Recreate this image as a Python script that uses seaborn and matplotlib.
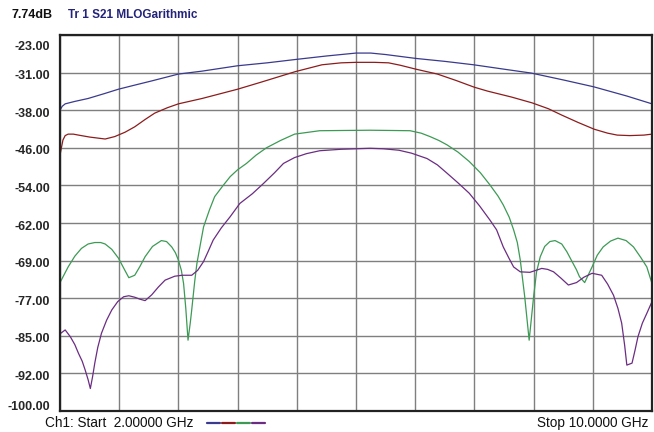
import matplotlib
matplotlib.use("Agg")
import matplotlib.pyplot as plt
import matplotlib.transforms as mtransforms
import numpy as np
import pandas as pd
import seaborn as sns

blue_f = [2.0, 2.03, 2.07, 2.2, 2.38, 2.6, 2.79, 3.0, 3.24, 3.6, 3.92, 4.4, 4.8, 5.19, 5.6, 6.0, 6.2, 6.4,
          6.81, 7.2, 7.59, 8.0, 8.37, 8.8, 9.21, 9.66, 10.0]
blue_db = [-38.4, -37.6, -37.1, -36.6, -36.0, -35.0, -34.1, -33.3, -32.4, -31.0, -30.4, -29.3, -28.7, -28.0, -27.3,
           -26.7, -26.7, -27.0, -27.8, -28.4, -29.1, -30.0, -30.8, -32.2, -33.6, -35.5, -37.1]

red_f = [2.0, 2.02, 2.04, 2.07, 2.11, 2.18, 2.25, 2.4, 2.61, 2.74, 2.88, 3.01, 3.15, 3.28, 3.45, 3.6, 3.92, 4.4,
         4.73, 5.18, 5.54, 5.8, 6.0, 6.25, 6.44, 6.6, 6.81, 7.1, 7.35, 7.6, 7.78, 8.1, 8.38, 8.6, 8.78, 9.0,
         9.22, 9.4, 9.53, 9.7, 9.89, 10.0]
red_db = [-47.6, -46.0, -44.5, -43.6, -43.3, -43.3, -43.5, -43.9, -44.3, -43.8, -42.9, -41.8, -40.3, -39.0, -37.9,
          -37.1, -36.0, -34.1, -32.6, -30.5, -29.1, -28.7, -28.6, -28.6, -28.7, -29.2, -30.0, -31.0, -32.3, -33.7,
          -34.5, -35.7, -36.9, -38.1, -39.4, -40.9, -42.3, -43.1, -43.5, -43.6, -43.5, -43.3]

green_f = [2.0, 2.11, 2.2, 2.29, 2.38, 2.47, 2.55, 2.61, 2.70, 2.79, 2.87, 2.93, 3.01, 3.08, 3.15, 3.25, 3.37,
           3.44, 3.51, 3.56, 3.60, 3.64, 3.67, 3.70, 3.73, 3.76, 3.78, 3.82, 3.85, 3.90, 3.94, 4.02, 4.09, 4.20,
           4.30, 4.40, 4.52, 4.65, 4.79, 4.98, 5.17, 5.51, 6.19, 6.73, 6.88, 7.0, 7.12, 7.23, 7.38, 7.53, 7.68,
           7.81, 7.92, 7.99, 8.07, 8.13, 8.18, 8.22, 8.28, 8.34, 8.40, 8.44, 8.49, 8.55, 8.62, 8.69, 8.78, 8.85,
           8.92, 8.98, 9.02, 9.09, 9.19, 9.26, 9.34, 9.44, 9.54, 9.65, 9.75, 9.85, 9.93, 10.0]
green_db = [-73.7, -70.5, -68.3, -66.7, -65.8, -65.5, -65.5, -65.8, -66.9, -68.7, -71.0, -72.7, -72.2, -70.4, -68.4,
            -66.3, -65.1, -65.3, -66.4, -67.6, -69.1, -71.2, -73.9, -79.0, -85.5, -82.0, -79.3, -73.5, -69.8, -65.6,
            -62.3, -58.8, -56.1, -53.9, -52.0, -50.6, -49.3, -47.6, -46.1, -44.6, -43.3, -42.6, -42.5, -42.6, -43.1,
            -43.8, -44.6, -45.5, -47.0, -48.9, -51.2, -53.7, -56.0, -57.8, -60.3, -62.9, -65.5, -69.1, -76.6, -85.5,
            -76.6, -71.5, -68.4, -66.3, -65.3, -65.1, -65.8, -67.4, -69.4, -71.1, -72.5, -73.7, -70.5, -68.1, -66.4,
            -65.2, -64.6, -65.1, -66.4, -68.6, -70.5, -73.9]

purple_f = [2.0, 2.07, 2.14, 2.2, 2.25, 2.30, 2.34, 2.38, 2.41, 2.44, 2.47, 2.51, 2.56, 2.63, 2.70, 2.78, 2.86,
            2.93, 3.01, 3.08, 3.15, 3.24, 3.33, 3.42, 3.55, 3.65, 3.78, 3.86, 3.94, 4.0, 4.07, 4.18, 4.30, 4.43,
            4.60, 4.75, 4.90, 5.02, 5.17, 5.33, 5.51, 5.8, 6.19, 6.37, 6.58, 6.75, 6.96, 7.10, 7.23, 7.38, 7.53,
            7.67, 7.81, 7.90, 7.99, 8.07, 8.13, 8.22, 8.35, 8.43, 8.51, 8.59, 8.67, 8.77, 8.87, 8.98, 9.08, 9.19,
            9.32, 9.40, 9.48, 9.54, 9.59, 9.63, 9.66, 9.73, 9.77, 9.81, 9.87, 9.93, 10.0]
purple_db = [-84.2, -83.4, -84.8, -86.4, -88.2, -89.8, -91.6, -93.6, -95.4, -93.0, -90.2, -87.0, -84.1, -81.4, -79.3,
             -77.6, -76.6, -76.4, -76.7, -77.1, -77.4, -76.2, -74.6, -73.2, -72.4, -72.2, -72.2, -71.2, -69.4, -67.4,
             -65.0, -62.5, -60.2, -57.5, -55.5, -53.4, -51.2, -49.3, -48.1, -47.3, -46.7, -46.4, -46.2, -46.3, -46.6,
             -47.2, -48.3, -49.6, -51.3, -53.3, -55.4, -58.0, -60.9, -62.9, -66.4, -68.8, -70.5, -71.5, -71.6, -71.2,
             -70.8, -71.0, -71.5, -72.8, -74.2, -73.7, -72.6, -71.8, -72.2, -74.0, -76.3, -79.0, -82.0, -86.5, -90.6,
             -90.2, -87.6, -84.8, -82.0, -80.0, -77.6]

trace_names = ["blue", "red", "green", "purple"]
trace_colors = ["#3a3a8e", "#8c1c1c", "#3d9a55", "#6b2d82"]

y_labels = ["-23.00", "-31.00", "-38.00", "-46.00", "-54.00", "-62.00",
            "-69.00", "-77.00", "-85.00", "-92.00", "-100.00"]

frames = []
for name, f, db in zip(trace_names, [blue_f, red_f, green_f, purple_f],
                       [blue_db, red_db, green_db, purple_db]):
    frames.append(pd.DataFrame({"freq": f, "s21": db, "trace": name}))
df = pd.concat(frames, ignore_index=True)

sns.set_style("white")
plt.rcParams["font.family"] = ["Liberation Sans", "DejaVu Sans"]

fig = plt.figure(figsize=(6.54, 4.32), dpi=100)
ax = fig.add_axes([60 / 654, 1 - 411 / 432, 592 / 654, 376 / 432])

sns.lineplot(data=df, x="freq", y="s21", hue="trace", palette=dict(zip(trace_names, trace_colors)),
             estimator=None, legend=False, linewidth=0.9, ax=ax)

ax.set_xlim(2, 10)
ax.set_ylim(-100, -23)
ax.set_xticks(np.linspace(2, 10, 11))
ax.set_yticks(np.linspace(-23, -100, 11))
ax.set_xticklabels([])
ax.set_yticklabels(y_labels, fontsize=9, fontweight="bold")
ax.tick_params(length=0, pad=7)
ax.grid(True, color="#7f7f7f", linewidth=1.0)
ax.set_xlabel("")
ax.set_ylabel("")
for sp in ax.spines.values():
    sp.set_color("#222222")
    sp.set_linewidth(1.6)

# Beschriftungen wie im Original leicht versetzen
lbls = ax.get_yticklabels()
for i, lb in enumerate(lbls):
    dy = -2
    if i == 0:
        dy = -11
    elif i == len(lbls) - 1:
        dy = 6
    lb.set_transform(lb.get_transform() + mtransforms.ScaledTranslation(0, dy / 100, fig.dpi_scale_trans))

fig.text(12 / 654, 1 - 15 / 432, "7.74dB", fontsize=9, fontweight="bold", color="#111111", va="center")
fig.text(68 / 654, 1 - 15 / 432, "Tr 1 S21 MLOGarithmic", fontsize=8.5, fontweight="bold", color="#23237a",
         va="center")

fig.text(45 / 654, 1 - 423 / 432, "Ch1: Start  2.00000 GHz", fontsize=9.8, color="#111111", va="center")
fig.text(648 / 654, 1 - 423 / 432, "Stop 10.0000 GHz", fontsize=9.8, color="#111111", va="center", ha="right")
for i, c in enumerate(trace_colors):
    x0 = (207 + i * 15) / 654
    fig.add_artist(plt.Line2D([x0, x0 + 13 / 654], [1 - 423 / 432] * 2, color=c, linewidth=1.6))

fig.savefig("out.png", dpi=100)
